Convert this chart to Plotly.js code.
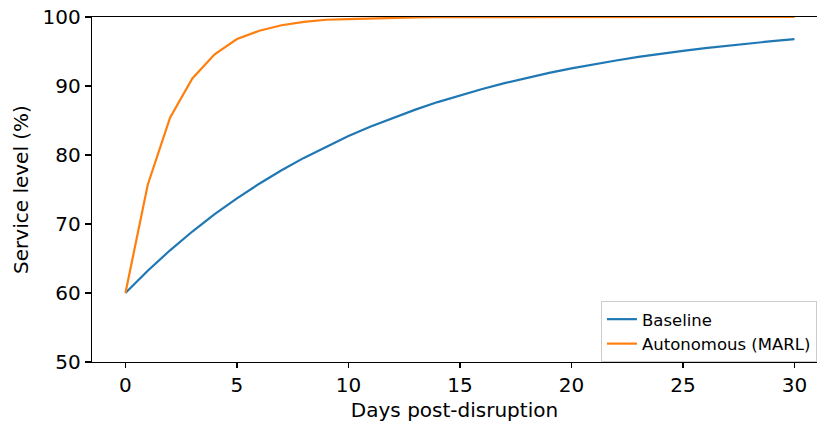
<!DOCTYPE html>
<html>
<head>
<meta charset="utf-8">
<script src="https://cdn.plot.ly/plotly-3.0.1.min.js"></script>
<style>html,body{margin:0;padding:0;background:#fff;overflow:hidden}</style>
</head>
<body>
<div id="chart" style="width:817px;height:426px"></div>
<script>
const days = [0,1,2,3,4,5,6,7,8,9,10,11,12,13,14,15,16,17,18,19,20,21,22,23,24,25,26,27,28,29,30];
const baseline = [60,63.22,66.19,68.91,71.42,73.72,75.84,77.79,79.58,81.22,82.74,84.13,85.41,86.58,87.67,88.66,89.57,90.41,91.19,91.90,92.55,93.15,93.70,94.21,94.68,95.10,95.50,95.86,96.20,96.50,96.78];
const autonomous = [60,75.7,85.4,91.1,94.6,96.8,98.0,98.8,99.3,99.6,99.7,99.8,99.9,99.95,99.97,99.98,99.99,100,100,100,100,100,100,100,100,100,100,100,100,100,100];
const seriesNames = ["Baseline","Autonomous (MARL)"];
const yTicks = [50,60,70,80,90,100];
const xTicks = [0,5,10,15,20,25,30];

const font = {family:"DejaVu Sans, sans-serif", size:20, color:"#000"};
const traces = [
  {x:days, y:baseline, name:seriesNames[0], mode:"lines", line:{color:"#1f77b4", width:2.2}},
  {x:days, y:autonomous, name:seriesNames[1], mode:"lines", line:{color:"#ff7f0e", width:2.2}}
];
const layout = {
  width:817, height:426,
  margin:{l:92, r:0, t:17, b:64, pad:0, autoexpand:false},
  paper_bgcolor:"#fff", plot_bgcolor:"#fff",
  font:font,
  showlegend:true,
  legend:{x:0.702, y:0.177, xanchor:"left", yanchor:"top",
    bgcolor:"rgba(255,255,255,0.8)", bordercolor:"#cccccc", borderwidth:1,
    font:{family:"DejaVu Sans, sans-serif", size:16.5, color:"#000"}, tracegroupgap:0},
  xaxis:{range:[-1.5,31.01], tickvals:xTicks, ticktext:xTicks.map(String),
    showgrid:false, zeroline:false, showline:true, linecolor:"#000", linewidth:1.3, mirror:true,
    ticks:"outside", ticklen:5, tickwidth:1.3, tickcolor:"#000",
    tickfont:font, title:{text:"Days post-disruption", font:font, standoff:6}},
  yaxis:{range:[50,100], tickvals:yTicks, ticktext:yTicks.map(String),
    showgrid:false, zeroline:false, showline:true, linecolor:"#000", linewidth:1.3,
    ticks:"outside", ticklen:6, tickwidth:1.3, tickcolor:"#000",
    tickfont:font, title:{text:"Service level (%)", font:font, standoff:8}}
};
Plotly.newPlot("chart", traces, layout, {staticPlot:true, displayModeBar:false});
</script>
</body>
</html>
